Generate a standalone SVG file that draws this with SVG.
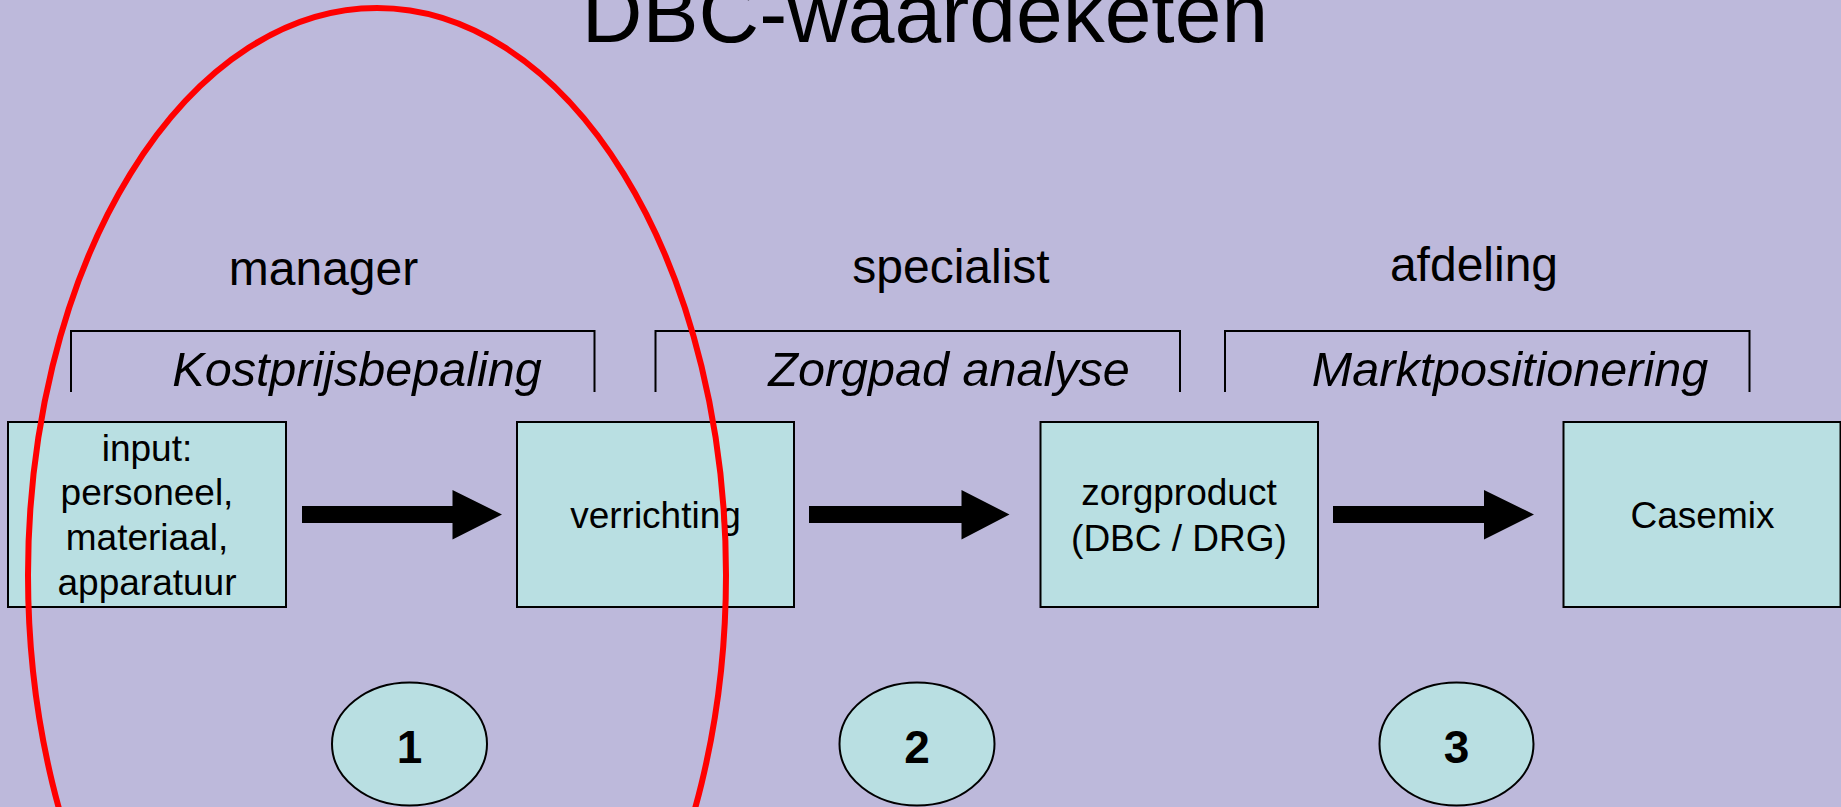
<svg xmlns="http://www.w3.org/2000/svg" width="1841" height="807" viewBox="0 0 1841 807">
<defs>
<style>
.t{font-family:"Liberation Sans",Arial,sans-serif;fill:#000;text-anchor:middle}
.box{fill:#b9dfe2;stroke:#000;stroke-width:2}
.br{fill:none;stroke:#000;stroke-width:2}
.lbl{font-size:48px}
.it{font-size:48.5px;font-style:italic}
.bt{font-size:37px}
.num{font-size:46px;font-weight:bold}
.arr{fill:#000}
</style>
</defs>
<rect x="0" y="0" width="1841" height="807" fill="#bdb9db"/>
<text class="t" x="925" y="42" font-size="84">DBC-waardeketen</text>

<g id="header-manager"><text class="t lbl" x="323.5" y="285">manager</text></g>
<g id="header-specialist"><text class="t lbl" x="951" y="283">specialist</text></g>
<g id="header-afdeling"><text class="t lbl" x="1474" y="281">afdeling</text></g>

<g id="bracket-kostprijs">
<path class="br" d="M71,392 V331 H594.5 V392"/>
<text class="t it" x="357" y="386">Kostprijsbepaling</text>
</g>
<g id="bracket-zorgpad">
<path class="br" d="M655.5,392 V331 H1180 V392"/>
<text class="t it" x="949" y="386">Zorgpad analyse</text>
</g>
<g id="bracket-markt">
<path class="br" d="M1225,392 V331 H1749.5 V392"/>
<text class="t it" x="1510" y="386">Marktpositionering</text>
</g>

<g id="node-input">
<rect class="box" x="8" y="422" width="278" height="185"/>
<text class="t bt" x="147" y="461">input:</text>
<text class="t bt" x="147" y="505">personeel,</text>
<text class="t bt" x="147" y="550">materiaal,</text>
<text class="t bt" x="147" y="595">apparatuur</text>
</g>
<g id="node-verrichting">
<rect class="box" x="517" y="422" width="277" height="185"/>
<text class="t bt" x="655.5" y="528">verrichting</text>
</g>
<g id="node-zorgproduct">
<rect class="box" x="1040.5" y="422" width="277.5" height="185"/>
<text class="t bt" x="1179" y="505">zorgproduct</text>
<text class="t bt" x="1179" y="551">(DBC / DRG)</text>
</g>
<g id="node-casemix">
<rect class="box" x="1563.5" y="422" width="277" height="185"/>
<text class="t bt" x="1702.5" y="528">Casemix</text>
</g>

<g id="connectors">
<path class="arr" d="M302,506 H452.5 V490 L502,514.5 L452.5,539.5 V523 H302 Z"/>
<path class="arr" d="M809,506 H961.5 V490 L1009.5,514.5 L961.5,539.5 V523 H809 Z"/>
<path class="arr" d="M1333,506 H1484 V490 L1534,514.5 L1484,539.5 V523 H1333 Z"/>
</g>

<g id="step-1">
<ellipse class="box" cx="409.5" cy="744" rx="77.5" ry="61.5"/>
<text class="t num" x="409.5" y="763">1</text>
</g>
<g id="step-2">
<ellipse class="box" cx="917" cy="744" rx="77.5" ry="61.5"/>
<text class="t num" x="917" y="763">2</text>
</g>
<g id="step-3">
<ellipse class="box" cx="1456.5" cy="744" rx="77" ry="61.5"/>
<text class="t num" x="1456.5" y="763">3</text>
</g>

<g id="highlight">
<ellipse cx="377" cy="575" rx="349" ry="567" fill="none" stroke="#ff0000" stroke-width="6"/>
</g>
</svg>
